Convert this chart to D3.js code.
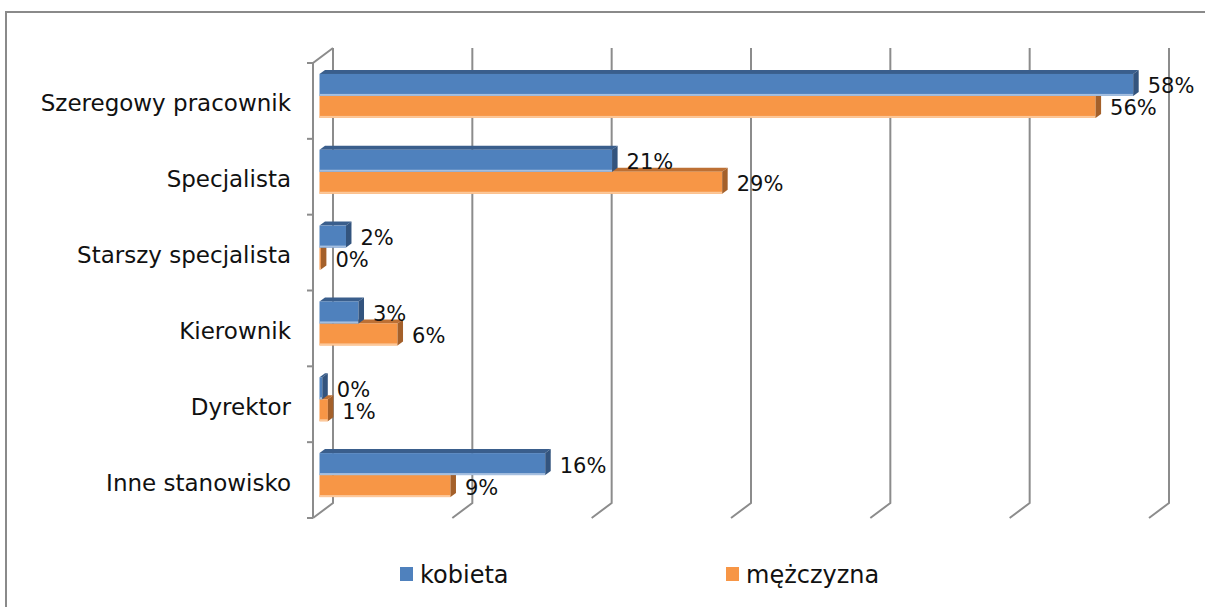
<!DOCTYPE html>
<html>
<head>
<meta charset="utf-8">
<script src="https://cdn.jsdelivr.net/npm/d3@7"></script>
<style>
  body { margin: 0; background: #fff; }
  text { font-family: "DejaVu Sans", sans-serif; fill: #111; }
</style>
</head>
<body>
<div id="chart"></div>
<script>
// categories and series (percent values)
const categories = ["Szeregowy pracownik", "Specjalista", "Starszy specjalista", "Kierownik", "Dyrektor", "Inne stanowisko"];
const seriesNames = ["kobieta", "mężczyzna"];
const kobieta = [58.4, 21.0, 1.9, 2.8, 0.2, 16.2];
const mezczyzna = [55.7, 28.9, 0.1, 5.6, 0.6, 9.4];
const gridTicks = [0, 10, 20, 30, 40, 50, 60];

const width = 1205, height = 607;
const svg = d3.select("#chart").append("svg")
    .attr("width", width)
    .attr("height", height);

// outer frame
svg.append("rect")
    .attr("x", 6).attr("y", 12)
    .attr("width", width + 10).attr("height", height)
    .attr("fill", "none")
    .attr("stroke", "#8a8a8a")
    .attr("stroke-width", 2);

// scales on the back wall
const x = d3.scaleLinear().domain([0, 60]).range([333, 1169]);
const y = d3.scaleBand().domain(categories).range([48, 503])
    .paddingInner(0.42).paddingOuter(0.21);
const ySub = d3.scaleBand().domain(seriesNames).range([0, y.bandwidth()]);

const depth = {dx: -20, dy: 15};     // floor depth (back -> front)
const face = {dx: -13.5, dy: 10};    // bar front face, from back wall
const bar = {dx: 5.5, dy: -4};       // bar thickness

const gridColor = "#8c8c8c";
const grid = svg.append("g").attr("fill", "none").attr("stroke", gridColor).attr("stroke-width", 2);

const wallTop = y.range()[0], wallBottom = y.range()[1];

gridTicks.forEach(t => {
    const gx = x(t);
    grid.append("polyline")
        .attr("points", [[gx, wallTop], [gx, wallBottom], [gx + depth.dx, wallBottom + depth.dy]].join(" "));
});

// left wall edge and category axis
grid.append("polyline")
    .attr("points", [[x(0), wallTop], [x(0) + depth.dx, wallTop + depth.dy], [x(0) + depth.dx, wallBottom + depth.dy]].join(" "));
const step = y.step();
d3.range(categories.length + 1).forEach(i => {
    const ty = wallTop + depth.dy + i * step;
    grid.append("line")
        .attr("x1", x(0) + depth.dx - 6).attr("x2", x(0) + depth.dx)
        .attr("y1", ty).attr("y2", ty);
});

const colors = {
    kobieta: {front: "#4f81bd", top: "#3a5e8c", side: "#33547e", light: "#a5bfe0"},
    "mężczyzna": {front: "#f79646", top: "#bd7034", side: "#a4602a", light: "#fcc89a"}
};

const rows = [];
categories.forEach((c, i) => {
    rows.push({cat: c, series: "mężczyzna", value: mezczyzna[i]});
    rows.push({cat: c, series: "kobieta", value: kobieta[i]});
});

const bars = svg.append("g");
rows.forEach(d => {
    const col = colors[d.series];
    const x0 = x(0) + face.dx;
    const x1 = x(d.value) + face.dx;
    const y0 = y(d.cat) + ySub(d.series) + face.dy;
    const h = ySub.bandwidth();
    const g = bars.append("g");
    g.append("polygon")
        .attr("points", [[x0, y0], [x1, y0], [x1 + bar.dx, y0 + bar.dy], [x0 + bar.dx, y0 + bar.dy]].join(" "))
        .attr("fill", col.top);
    g.append("rect")
        .attr("x", x0).attr("y", y0)
        .attr("width", Math.max(0, x1 - x0)).attr("height", h)
        .attr("fill", col.front);
    g.append("rect")
        .attr("x", x0).attr("y", y0 + h - 2)
        .attr("width", Math.max(0, x1 - x0)).attr("height", 2)
        .attr("fill", col.light);
    g.append("polygon")
        .attr("points", [[x1, y0], [x1 + bar.dx, y0 + bar.dy], [x1 + bar.dx, y0 + h + bar.dy], [x1, y0 + h]].join(" "))
        .attr("fill", col.side);
});

// value labels
svg.append("g").selectAll("text")
    .data(rows)
    .join("text")
    .attr("x", d => x(d.value) + face.dx + bar.dx + 9)
    .attr("y", d => y(d.cat) + ySub(d.series) + face.dy + ySub.bandwidth() / 2 + 8.5)
    .attr("font-size", 21)
    .text(d => Math.round(d.value) + "%");

// category labels
svg.append("g").selectAll("text")
    .data(categories)
    .join("text")
    .attr("x", 291)
    .attr("y", d => y(d) - step * 0.21 + step / 2 + depth.dy + 10.5)
    .attr("text-anchor", "end")
    .attr("font-size", 23)
    .text(d => d);

// legend
const legendX = [400, 726];
const legend = svg.append("g");
seriesNames.forEach((s, i) => {
    legend.append("rect")
        .attr("x", legendX[i]).attr("y", 567)
        .attr("width", 13).attr("height", 14)
        .attr("fill", colors[s].front);
    legend.append("text")
        .attr("x", legendX[i] + 20).attr("y", 583)
        .attr("font-size", 24)
        .text(s);
});
</script>
</body>
</html>
